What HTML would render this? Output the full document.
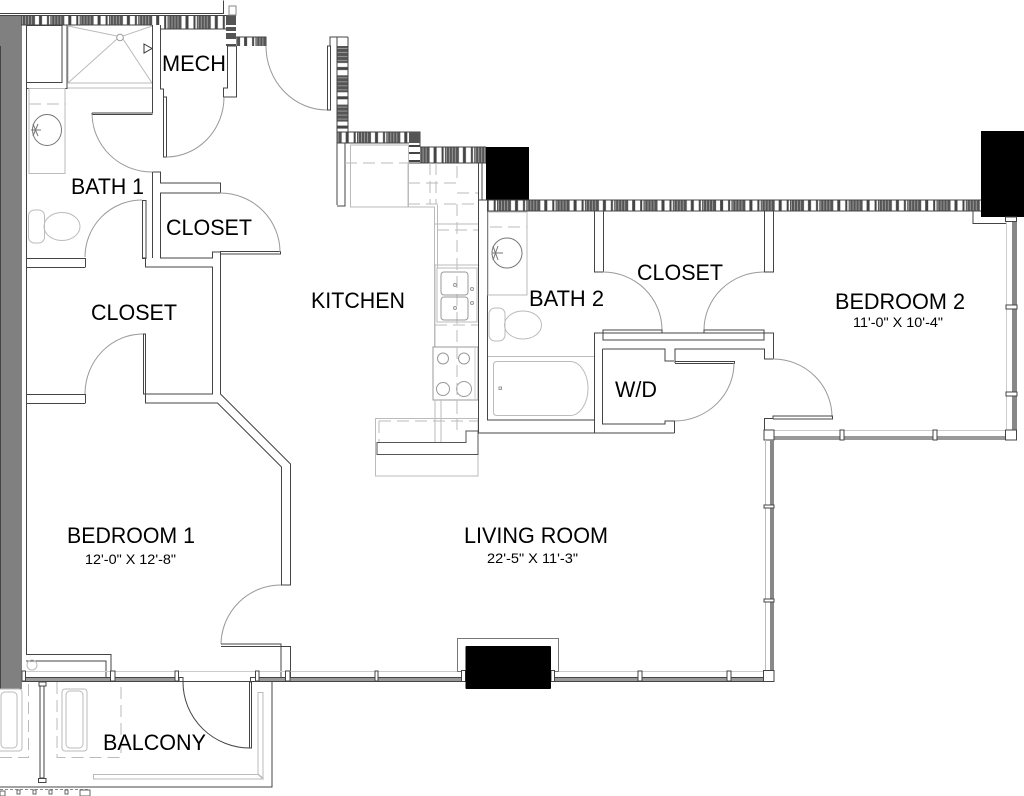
<!DOCTYPE html>
<html><head><meta charset="utf-8"><style>
html,body{margin:0;padding:0;background:#fff}
svg{display:block}
text{font-family:"Liberation Sans",sans-serif;fill:#000}
.t{font-size:22.5px}.s{font-size:14px}
.d{fill:none;stroke:#444;stroke-width:1}
.g{fill:none;stroke:#bbb;stroke-width:1}
.a{fill:none;stroke:#999;stroke-width:1}
.da{fill:none;stroke:#bbb;stroke-width:1;stroke-dasharray:12 6}
.m{fill:#fff;stroke:#444;stroke-width:1}
</style></head><body>
<svg width="1024" height="796" viewBox="0 0 1024 796" xmlns="http://www.w3.org/2000/svg">
<defs>
<pattern id="hx" width="29.3" height="20" patternUnits="userSpaceOnUse" patternTransform="translate(21 0)">
<rect width="14" height="20" fill="#555"/><rect x="1" width="1" height="20" fill="#999"/><rect x="4" width="1" height="20" fill="#999"/><rect x="7" width="1" height="20" fill="#999"/><rect x="10" width="1" height="20" fill="#999"/>
<rect x="18" width="3" height="20" fill="#444"/><rect x="26" width="2" height="20" fill="#444"/>
</pattern>
<pattern id="hx2" width="29.3" height="20" patternUnits="userSpaceOnUse" patternTransform="translate(497 0)">
<rect width="14" height="20" fill="#555"/><rect x="1" width="1" height="20" fill="#999"/><rect x="4" width="1" height="20" fill="#999"/><rect x="7" width="1" height="20" fill="#999"/><rect x="10" width="1" height="20" fill="#999"/>
<rect x="18" width="3" height="20" fill="#444"/><rect x="26" width="2" height="20" fill="#444"/>
</pattern>
<pattern id="hx3" width="29.3" height="20" patternUnits="userSpaceOnUse" patternTransform="translate(357 0)">
<rect width="14" height="20" fill="#555"/><rect x="1" width="1" height="20" fill="#999"/><rect x="4" width="1" height="20" fill="#999"/><rect x="7" width="1" height="20" fill="#999"/><rect x="10" width="1" height="20" fill="#999"/>
<rect x="18" width="3" height="20" fill="#444"/><rect x="26" width="2" height="20" fill="#444"/>
</pattern>
<pattern id="hy" width="20" height="29.3" patternUnits="userSpaceOnUse" patternTransform="translate(0 46)">
<rect width="20" height="17" fill="#555"/><rect y="2" width="20" height="1" fill="#999"/><rect y="6" width="20" height="1" fill="#999"/><rect y="10" width="20" height="1" fill="#999"/><rect y="14" width="20" height="1" fill="#999"/>
<rect y="21" width="20" height="3" fill="#444"/>
</pattern>
</defs>
<rect width="1024" height="796" fill="#fff"/>

<!-- left wall -->
<rect x="0" y="16" width="22" height="673" fill="#808080"/>
<rect x="0" y="46" width="1" height="643" fill="#444"/>
<path class="d" d="M0 13.5H223.5V0.5M0 15.5H226M26.5 25V654"/>

<!-- top hatch -->
<rect x="21" y="16" width="206" height="9" fill="url(#hx)"/>
<rect x="160" y="25" width="67" height="4" fill="url(#hx)"/>
<path class="d" d="M21 15.5H227M21 25H152M160 29H227"/>
<rect x="226" y="15" width="10" height="31" fill="#555"/>
<rect x="226" y="25" width="10" height="2" fill="#fff"/><rect x="226" y="31" width="10" height="2" fill="#fff"/><rect x="226" y="39" width="10" height="5" fill="#fff"/>
<rect x="229" y="6" width="7" height="9" fill="#fff" stroke="#888"/>
<rect x="236" y="37" width="30" height="9" fill="url(#hx)"/>
<path class="d" d="M236 37H266V46M227 46H236"/>

<!-- shower -->
<path class="g" d="M68 25V83H152M68 83L117 39M152 83L123 39M68 26L117 36M152 26L123 36M67 88H152"/>
<circle cx="120" cy="37.500" r="3.300" fill="#fff" stroke="#999"/>
<path d="M144 44L152 48.500L144 53Z" fill="#fff" stroke="#333"/>
<rect x="26.500" y="25.500" width="35.500" height="57" fill="none" stroke="#444"/>
<path class="d" d="M26.500 88.500H67V25"/>
<!-- vanity 1 -->
<rect x="29" y="88.500" width="36" height="85" class="g"/>
<path class="da" d="M29 104H66"/>
<ellipse cx="47" cy="130" rx="14.500" ry="15.500" fill="#fff" stroke="#777"/>
<path d="M31 130H41M33 124L38 136M33 136L38 124M37 130H41" stroke="#777" fill="none"/>
<!-- toilet 1 -->
<rect x="28.500" y="210" width="16" height="33" rx="6" class="g"/>
<ellipse cx="62" cy="226.500" rx="18" ry="14" class="g"/>

<!-- mech walls -->
<path class="d" d="M152.500 25V113H92M92 113V114.500H152.500M160.500 25V89H163.500V97M227.500 46V88H223.500V97H236.500V46"/>
<rect x="163.500" y="97" width="3" height="60" fill="#fff" stroke="#444"/>
<path class="a" d="M166.500 157A58 60 0 0 0 224 97"/>
<path class="a" d="M92 114A60 59 0 0 0 152 172"/>

<!-- closet near bath1 -->
<path class="d" d="M152.500 172H160.500V183H220.500V193H212.500M212.500 193H160.500V258H212.500V252H220.500M152.500 172V258M145.500 258H142.500V200M145.500 258V267H212.500V394H143.500V334H145.500V394M220.500 251V394L290.500 464V585H281.500V467L217.500 403H145.500V394"/>
<rect x="142.500" y="200.500" width="3.500" height="58" fill="none" stroke="#444"/>
<path class="d" d="M26 258.500H85.500V267M85.500 267.500H26M26 394.500H85.500V403M85.500 403.500H26"/>
<rect x="220.500" y="251.500" width="60" height="2.500" fill="#fff" stroke="#444"/>
<path class="a" d="M220 193A60 59 0 0 1 280 252"/>
<path class="a" d="M142 200A57 57 0 0 0 85 257"/>
<path class="a" d="M143 334A58 60 0 0 0 85 394"/>

<!-- bedroom1 door -->
<path class="a" d="M281 585A60 60 0 0 0 221 644"/>
<path class="d" d="M221 644H281V680M221 646.500H290.500V680"/>
<path class="d" d="M26 654.500H111V680M26 661H106V680"/>
<circle cx="32" cy="665" r="5" class="g"/>

<!-- bottom windows -->
<rect x="25" y="671" width="740" height="1" fill="#ccc"/>
<rect x="25" y="677" width="153" height="4" fill="#999"/>
<rect x="255" y="677" width="510" height="4" fill="#999"/>
<path class="d" d="M25 681.500H765M25 677.500H178M255 677.500H765"/>
<rect x="22" y="671" width="3.500" height="10" class="m"/>
<rect x="110.500" y="671" width="4.500" height="10" class="m"/>
<rect x="175" y="671" width="3.500" height="10" class="m"/>
<rect x="179" y="677.500" width="4" height="4" class="m"/>
<rect x="250.500" y="677.500" width="5" height="4" class="m"/>
<rect x="255.500" y="671" width="3.500" height="10" class="m"/>
<rect x="285.500" y="671" width="4.500" height="10" class="m"/>
<rect x="375" y="671" width="3" height="10" class="m"/>
<rect x="638" y="671" width="4" height="10" class="m"/>
<rect x="727" y="671" width="4" height="10" class="m"/>
<rect x="763.500" y="670.500" width="10.500" height="11" class="m"/>

<!-- balcony -->
<path class="d" d="M22 681.500H272V787H0"/>
<rect x="249.500" y="682" width="2" height="66" fill="#fff" stroke="#444"/>
<path d="M183 682A67 66 0 0 0 250 748" fill="none" stroke="#444"/>
<path class="g" d="M258 692.500H263V778L258 774ZM93.500 774.500H258L263 779H93.500Z"/>
<rect x="39" y="682" width="7" height="4" class="m"/>
<rect x="40" y="686" width="4" height="92" fill="#fff" stroke="#444"/>
<rect x="38.500" y="778.500" width="7.500" height="4" class="m"/>
<path class="da" d="M0 757.500H28.500V682M57 682V757.500H121V682"/>
<rect x="62" y="689" width="25" height="62" rx="3" class="g"/>
<rect x="66" y="691" width="17" height="57" rx="4" class="g"/>
<rect x="-3" y="689" width="25" height="62" rx="3" class="g"/>
<rect x="1" y="692" width="16" height="56" rx="4" class="g"/>
<path d="M0 789.500H90" stroke="#888" stroke-dasharray="3 2"/>
<g fill="#fff" stroke="#666"><rect x="0" y="791" width="5" height="5"/><rect x="17" y="790" width="3" height="4"/><rect x="33" y="790" width="3" height="4"/><rect x="49" y="790" width="3" height="4"/><rect x="65" y="790" width="3" height="4"/><rect x="80" y="790" width="10" height="6"/></g>

<!-- entry door -->
<rect x="327.500" y="46" width="3" height="64" fill="#fff" stroke="#444"/>
<path class="a" d="M266 46A61 64 0 0 0 327 110"/>
<path class="d" d="M330 46V37H337M330 37H348"/>
<rect x="337" y="46" width="11" height="86" fill="url(#hy)"/>
<path class="d" d="M337 37V205M348 37V132"/>
<rect x="337" y="132" width="83" height="11" fill="url(#hx3)"/>
<path class="d" d="M337 132H420V147M337 143H409"/>
<rect x="409" y="132" width="11" height="11" fill="#555"/>
<rect x="409" y="145" width="11" height="2" fill="#444"/><rect x="409" y="152" width="11" height="2" fill="#444"/><rect x="409" y="160" width="11" height="2" fill="#444"/>
<rect x="420" y="147" width="66" height="16" fill="url(#hx3)"/>
<path class="d" d="M420 147H486M409 163H486M337 206H345V143"/>
<rect x="486" y="147" width="43" height="53" fill="#000"/>
<!-- fridge and counter -->
<rect x="350.500" y="145" width="58" height="62" class="g"/>
<path class="da" d="M345 163H408"/>
<path class="g" d="M408 207H434.500V398M437.500 205V268M408 163V207"/>
<path class="da" d="M408 183H457V163M408 204H478M457 204V418M457 193H478M437 230H478M430 163V204M436 163V204"/>
<path class="g" d="M435 224H478M435 347V265H478"/>
<!-- kitchen sink -->
<rect x="437" y="268" width="40" height="54" class="g"/>
<rect x="441" y="272" width="27" height="23" rx="3" class="a"/>
<rect x="441" y="297" width="27" height="23" rx="3" class="a"/>
<circle cx="455" cy="285" r="1.500" class="a"/><circle cx="455" cy="308" r="1.500" class="a"/><circle cx="472" cy="289" r="1.500" class="a"/><circle cx="472" cy="303" r="1.500" class="a"/>
<path class="da" d="M435 325H478"/>
<!-- range -->
<rect x="433" y="347" width="45" height="53" fill="#fff" stroke="#999"/>
<path d="M475 347V400" stroke="#ccc"/>
<circle cx="443" cy="358.500" r="5.500" class="a"/><circle cx="464" cy="358.500" r="5.500" class="a"/><circle cx="443" cy="389" r="6.500" class="a"/><circle cx="464" cy="389" r="7.500" class="a"/>
<path class="da" d="M457 347V400"/>
<!-- peninsula -->
<path class="g" d="M375.500 418.500H478V476H375.500ZM435 400V442M441 400V442"/>
<path class="da" d="M379 421H478M379 421V442M457 400V436"/>
<path d="M377 442.500H466V431H478V454.500H377Z" fill="none" stroke="#555"/>
<path class="d" d="M478.500 163V433H674.500M487.500 200V420H594M478.500 200H487.500M482 163V200"/>

<!-- main north hatch -->
<rect x="487" y="200" width="494" height="11" fill="url(#hx2)"/>
<path class="d" d="M487 200H981M487 211H981"/>
<rect x="981" y="131" width="43" height="86" fill="#000"/>
<path class="d" d="M973 211V223.500H1006"/>

<!-- bath2 -->
<rect x="488" y="212" width="39" height="83" class="g"/>
<path class="da" d="M490 227H527"/>
<circle cx="507" cy="253" r="15" fill="#fff" stroke="#777"/>
<path d="M492 253H503M493 246L498 260M493 260L498 246" stroke="#777" fill="none"/>
<rect x="489" y="308" width="16" height="33" rx="6" class="g"/>
<ellipse cx="523" cy="325" rx="18.500" ry="14" class="g"/>
<path class="g" d="M488 356.500H594"/>
<path class="g" d="M497 361.500H570A18 27 0 0 1 588 388.500A18 27 0 0 1 570 415.500H497Q493.500 415.500 493.500 412V365Q493.500 361.500 497 361.500Z"/>
<rect x="499" y="387" width="2.500" height="2.500" class="a"/>

<!-- closet 2 -->
<path class="d" d="M594.500 211V272H603.500V211M764.500 211V272H773.500V211"/>
<path class="a" d="M603 272A59 58 0 0 1 662 330"/>
<path class="a" d="M764 272A60 58 0 0 0 704 330"/>
<rect x="603" y="330" width="59" height="3" fill="#fff" stroke="#444"/>
<rect x="704" y="330" width="60" height="3" fill="#fff" stroke="#444"/>
<path class="d" d="M594.500 433V333H773.500V359H764.500V349H675V363M603 333V340H764V333M602.500 349H665V361H674M602.500 349V424H665V421H674.500V433"/>
<path class="d" d="M675 361.500H734.500V363.500H675"/>
<path class="a" d="M734 363A60 58 0 0 1 675 421"/>
<path class="a" d="M773 359A59 58 0 0 1 832 417"/>
<path class="d" d="M764.500 430V418.500H773V416H832.500V419H773"/>

<!-- east window bedroom 2 -->
<rect x="1006" y="221" width="1" height="209" fill="#ccc"/>
<rect x="1012" y="221" width="5" height="209" fill="#888"/>
<rect x="1005.500" y="217" width="11" height="4.500" class="m"/>
<rect x="1006" y="305" width="11" height="4" class="m"/>
<rect x="1006" y="392" width="11" height="4" class="m"/>
<rect x="774" y="430" width="232" height="1" fill="#ccc"/>
<rect x="774" y="436" width="232" height="4" fill="#999"/>
<rect x="840" y="430" width="4" height="10" class="m"/>
<rect x="933" y="430" width="4" height="10" class="m"/>
<rect x="1005.500" y="430" width="11" height="10" class="m"/>
<rect x="764" y="430" width="10" height="10" class="m"/>

<!-- east window living -->
<rect x="765" y="440" width="1" height="230" fill="#bbb"/>
<rect x="770" y="440" width="4" height="230" fill="#888"/>
<rect x="764" y="505" width="10" height="3" class="m"/>
<rect x="764" y="599" width="10" height="3" class="m"/>

<!-- column -->
<rect x="457.500" y="638.500" width="101" height="33" fill="#fff" stroke="#777"/>
<rect x="461.500" y="670.500" width="4" height="11" class="m"/>
<rect x="551" y="670.500" width="3.500" height="11" class="m"/>
<rect x="465.500" y="646" width="85.500" height="43" rx="1" fill="#000"/>

<!-- labels -->
<text class="t" x="162" y="71" textLength="64" lengthAdjust="spacingAndGlyphs">MECH</text>
<text class="t" x="71" y="194" textLength="73" lengthAdjust="spacingAndGlyphs">BATH 1</text>
<text class="t" x="166" y="235" textLength="86" lengthAdjust="spacingAndGlyphs">CLOSET</text>
<text class="t" x="91" y="320" textLength="86" lengthAdjust="spacingAndGlyphs">CLOSET</text>
<text class="t" x="311" y="308" textLength="94" lengthAdjust="spacingAndGlyphs">KITCHEN</text>
<text class="t" x="529" y="306" textLength="75" lengthAdjust="spacingAndGlyphs">BATH 2</text>
<text class="t" x="637" y="280" textLength="86" lengthAdjust="spacingAndGlyphs">CLOSET</text>
<text class="t" x="835" y="309" textLength="130" lengthAdjust="spacingAndGlyphs">BEDROOM 2</text>
<text class="s" x="853" y="327" textLength="90" lengthAdjust="spacingAndGlyphs">11'-0" X 10'-4"</text>
<text class="t" x="615" y="397" textLength="42" lengthAdjust="spacingAndGlyphs">W/D</text>
<text class="t" x="67" y="543" textLength="128" lengthAdjust="spacingAndGlyphs">BEDROOM 1</text>
<text class="s" x="85" y="564" textLength="91" lengthAdjust="spacingAndGlyphs">12'-0" X 12'-8"</text>
<text class="t" x="464" y="543" textLength="144" lengthAdjust="spacingAndGlyphs">LIVING ROOM</text>
<text class="s" x="487" y="563" textLength="91" lengthAdjust="spacingAndGlyphs">22'-5" X 11'-3"</text>
<text class="t" x="103" y="750" textLength="103" lengthAdjust="spacingAndGlyphs">BALCONY</text>
</svg>
</body></html>
